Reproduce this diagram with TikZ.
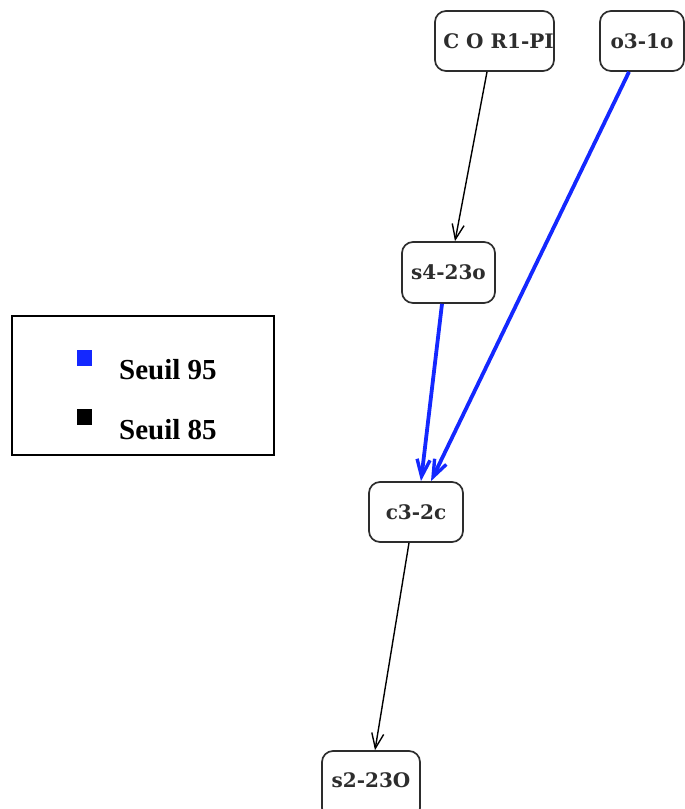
\documentclass[tikz,border=0pt]{standalone}
\usepackage{fontspec}
\setmainfont{Liberation Serif}
\newfontfamily\nodefont{DejaVu Serif}
\usetikzlibrary{arrows.meta,calc}
\definecolor{edgeblue}{RGB}{20,40,255}
\definecolor{boxgray}{RGB}{45,45,45}
\tikzset{
  vbox/.style={draw=boxgray, line width=1.7pt, rounded corners=11pt, fill=white,
    inner sep=0pt, font=\nodefont\bfseries\fontsize{20}{23}\selectfont, text=boxgray},
  thinedge/.style={draw=black, line width=1.4pt, -{Straight Barb[length=15pt,width=12pt,line width=1.4pt]}},
  blueedge/.style={draw=edgeblue, line width=3.8pt, -{Straight Barb[length=17pt,width=13pt,line width=3.4pt]}},
  legtext/.style={font=\bfseries\fontsize{29}{32}\selectfont, anchor=west, inner sep=0pt},
}
\begin{document}
\begin{tikzpicture}[x=1pt,y=-1pt]
\useasboundingbox (0,0) rectangle (685,809);
\node[vbox, minimum width=119pt, minimum height=60pt] (cor) at (494.5,41) {\hspace*{8pt}C O R1-PI};
\node[vbox, minimum width=84pt, minimum height=60pt] (o3) at (642,41) {o3-1o};
\node[vbox, minimum width=93pt, minimum height=61pt] (s4) at (448.5,272.5) {s4-23o};
\node[vbox, minimum width=94pt, minimum height=60pt] (c3) at (416,512) {c3-2c};
\node[vbox, minimum width=98pt, minimum height=68pt, text depth=0pt] (s2) at (371,785) {\raisebox{9pt}{s2-23O}};

\draw[thinedge] ($(cor.south)+(-7.5,0)$) -- ($(s4.north)+(6.5,0)$);
\draw[blueedge] ($(o3.south)+(-13,0)$) -- ($(c3.north)+(15,0)$);
\draw[blueedge] ($(s4.south)+(-6.5,0)$) -- ($(c3.north)+(5,0)$);
\draw[thinedge] ($(c3.south)+(-7,0)$) -- ($(s2.north)+(4,0)$);

\node[draw=black, line width=2pt, minimum width=262pt, minimum height=139pt, inner sep=0pt] (leg) at (143,385.5) {};
\node[fill=edgeblue, minimum width=15pt, minimum height=16pt, inner sep=0pt] (sq1) at (84.5,358) {};
\node[fill=black, minimum width=15pt, minimum height=16pt, inner sep=0pt] (sq2) at (84.5,417) {};
\node[legtext] (t1) at (119,370) {Seuil 95};
\node[legtext] (t2) at (119,430) {Seuil 85};
\end{tikzpicture}
\end{document}
